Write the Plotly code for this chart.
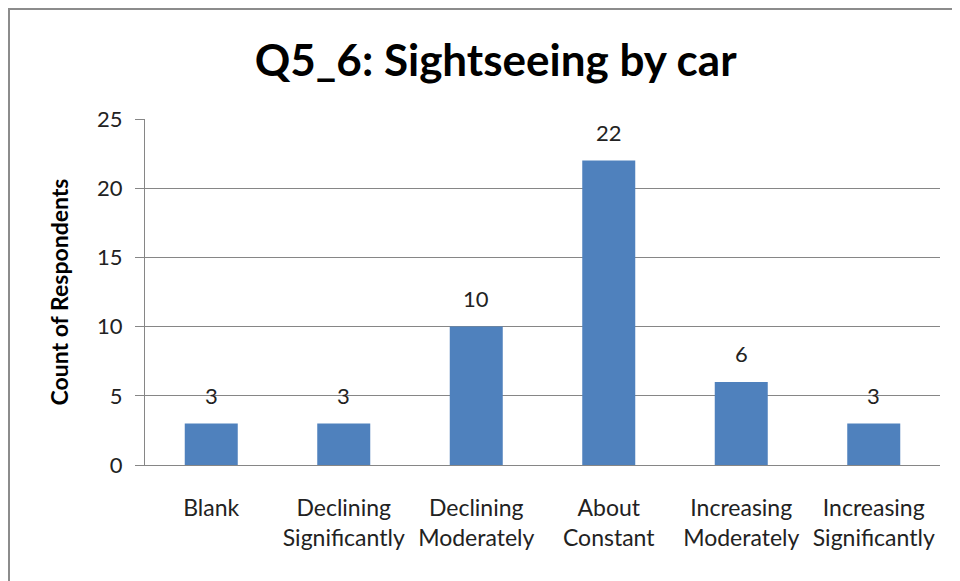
import plotly.graph_objects as go

categories = ["Blank<br> ", "Declining<br>Significantly", "Declining<br>Moderately",
              "About<br>Constant", "Increasing<br>Moderately", "Increasing<br>Significantly"]
counts = [3, 3, 10, 22, 6, 3]

fig = go.Figure(go.Bar(
    x=categories,
    y=counts,
    marker=dict(color="#4F81BD", line=dict(width=0)),
    width=0.4,
))

# value labels sit well above each bar, as in the original
for cat, val in zip(categories, counts):
    fig.add_annotation(x=cat, y=val, text=str(val), showarrow=False,
                       yshift=28, font=dict(size=22, color="#222222"))

fig.update_layout(
    width=960, height=581,
    margin=dict(l=137, r=28, t=111, b=124),
    paper_bgcolor="white", plot_bgcolor="white",
    font=dict(family="Lato, Liberation Sans, sans-serif", color="#222222"),
    title=dict(text="<b>Q5_6: Sightseeing by car</b>", x=0.508, xanchor="center",
               y=0.91, yanchor="middle", font=dict(size=44, color="black")),
    showlegend=False,
)

fig.update_xaxes(
    showgrid=False, showline=True, linecolor="#868686", linewidth=1,
    ticks="", tickfont=dict(size=23), ticklabelstandoff=22,
)
fig.update_yaxes(
    range=[0, 25], dtick=5, showgrid=True, gridcolor="#868686", gridwidth=1,
    showline=True, linecolor="#868686", linewidth=1, zeroline=False,
    ticks="outside", ticklen=9, tickcolor="#868686", tickfont=dict(size=22),
    ticklabelstandoff=8,
    title=dict(text="<b>Count of Respondents</b>", font=dict(size=23, color="black"), standoff=22),
)

# outer chart border (cut off at right and bottom like the reference)
fig.add_shape(type="rect", xref="paper", yref="paper",
              x0=(1 - 137) / 795, x1=(990 - 137) / 795,
              y0=(457 - 620) / 346, y1=(457 - 1) / 346,
              line=dict(color="#8c8c8c", width=2), layer="below")

fig.write_html("out.html")
